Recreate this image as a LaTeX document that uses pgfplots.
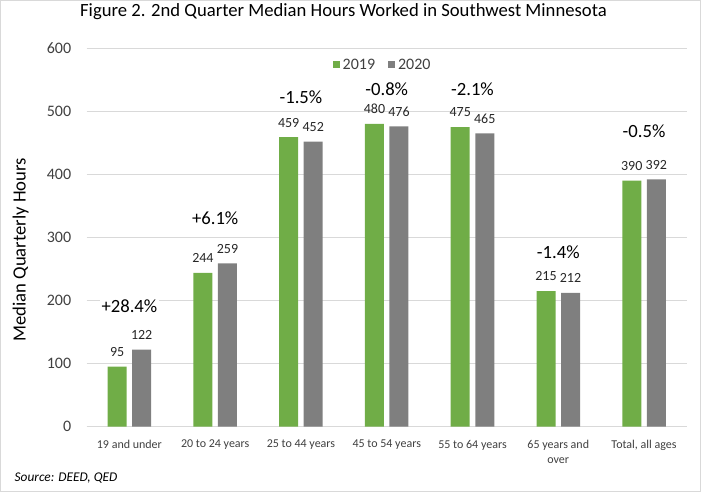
\documentclass[border=0pt]{standalone}
\usepackage{fontspec}
\setmainfont{Carlito}
\usepackage{pgfplots}
\pgfplotsset{compat=1.18}
\definecolor{green19}{HTML}{70AD47}
\definecolor{gray20}{HTML}{7F7F7F}
\definecolor{gridc}{HTML}{D9D9D9}
\definecolor{txt}{HTML}{404040}

\begin{document}
\begin{tikzpicture}
\useasboundingbox (0,0) rectangle (525.75pt,369pt);
\draw[gridc, line width=0.75pt] (0.375pt,0.375pt) rectangle (525.375pt,368.625pt);
\begin{axis}[
    at={(64.9pt,49pt)}, anchor=south west,
    scale only axis, width=450.3pt, height=283.8pt,
    xmin=-0.5, xmax=6.5, ymin=0, ymax=600,
    ytick={0,100,...,600},
    xtick={0,1,2,3,4,5,6},
    xticklabels={19 and under, 20 to 24 years, 25 to 44 years, 45 to 54 years,
        55 to 64 years, {65 years and\\over}, {Total, all ages}},
    xticklabel style={align=center, font=\fontsize{9}{11}\selectfont, text=txt, yshift=-6.5pt},
    yticklabel style={font=\fontsize{12}{14}\selectfont, text=txt, xshift=-8pt},
    /pgf/number format/assume math mode=true,
    major tick length=0pt,
    ymajorgrids, grid style={gridc, line width=0.75pt},
    axis x line*=bottom, axis y line*=left, axis line style={-},
    x axis line style={gridc, line width=0.75pt}, y axis line style={draw=none},
    title={Figure 2. 2nd Quarter Median Hours Worked in Southwest Minnesota},
    title style={at={(axis description cs:0.428,1.0748)}, anchor=center, yshift=0pt,
        font=\fontsize{14}{16}\selectfont},
    ylabel={Median Quarterly Hours},
    ylabel style={at={(axis description cs:-0.1099,0.467)}, anchor=center,
        font=\fontsize{14}{16}\selectfont},
    legend style={at={(axis description cs:0.494,0.956)}, anchor=center,
        draw=none, fill=none, legend columns=2, font=\fontsize{12}{14}\selectfont,
        text=txt, /tikz/every even column/.append style={column sep=8pt}},
    ybar, bar width=14.25pt,
]
% median quarterly hours, 2nd quarter
\addplot[fill=green19, draw=none, bar shift=-9.2pt,
    legend image code/.code={\path[fill=green19] (0pt,-2.625pt) rectangle (5.25pt,2.625pt);},
    nodes near coords, every node near coord/.append style={font=\fontsize{10.5}{12}\selectfont, text=black!85, yshift=4pt}]
    coordinates {(0,95) (1,244) (2,459) (3,480) (4,475) (5,215) (6,390)};
\addlegendentry{2019}
\addplot[fill=gray20, draw=none, bar shift=9.2pt,
    legend image code/.code={\path[fill=gray20] (0pt,-2.625pt) rectangle (5.25pt,2.625pt);},
    nodes near coords, every node near coord/.append style={font=\fontsize{10.5}{12}\selectfont, text=black!85, yshift=4pt}]
    coordinates {(0,122) (1,259) (2,452) (3,476) (4,465) (5,212) (6,392)};
\addlegendentry{2020}
% percent change labels
\addplot[forget plot, ybar=0pt, draw=none, fill=none, bar width=0pt, bar shift=0pt,
    point meta=explicit symbolic, nodes near coords,
    every node near coord/.append style={anchor=center, fill=white, inner sep=1pt,
        font=\fontsize{14}{16}\selectfont, text=black}]
    table[meta=label] {
    x y label
    0 191 {+28.4\%}
    1 331 {+6.1\%}
    2 523 {-1.5\%}
    3 535 {-0.8\%}
    4 535 {-2.1\%}
    5 276 {-1.4\%}
    6 469 {-0.5\%}
    };
\end{axis}
\node[anchor=west, font=\itshape\fontsize{10}{12}\selectfont] at (7.5pt,10.5pt) {Source: DEED, QED};
\end{tikzpicture}
\end{document}
